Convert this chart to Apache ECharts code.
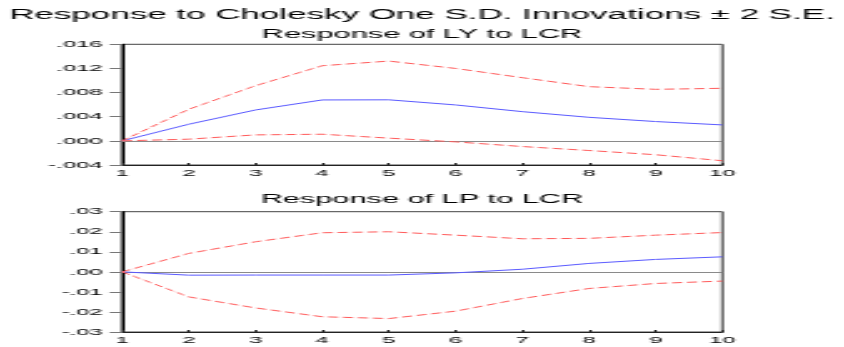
<!DOCTYPE html>
<html>
<head>
<meta charset="utf-8">
<script src="https://cdn.jsdelivr.net/npm/echarts@6/dist/echarts.min.js"></script>
<style>
html,body{margin:0;padding:0;background:#fff;overflow:hidden;width:844px;height:347px;}
#wrap{width:844px;height:347px;overflow:hidden;}
#chart{width:338px;height:347px;transform:scaleX(2.497);transform-origin:0 0;}
</style>
</head>
<body>
<div id="wrap"><div id="chart"></div></div>
<script>
// ---- data ----
const horizons = ['1','2','3','4','5','6','7','8','9','10'];
const mainTitle = 'Response to Cholesky One S.D. Innovations \u00b1 2 S.E.';
const panelTitles = ['Response of LY to LCR', 'Response of LP to LCR'];

const lyResp  = [0, 0.00276, 0.00512, 0.00678, 0.00680, 0.00595, 0.00484, 0.00390, 0.00320, 0.00264];
const lyUpper = [0, 0.00524, 0.00914, 0.01245, 0.01322, 0.01200, 0.01047, 0.00898, 0.00854, 0.00871];
const lyLower = [0, 0.00028, 0.00099, 0.00110, 0.00045, -0.00017, -0.00094, -0.00160, -0.00230, -0.00330];

const lpResp  = [0, -0.00165, -0.00160, -0.00160, -0.00160, -0.00050, 0.00130, 0.00420, 0.00620, 0.00750];
const lpUpper = [0, 0.00920, 0.01500, 0.01950, 0.02000, 0.01830, 0.01650, 0.01670, 0.01830, 0.01960];
const lpLower = [0, -0.01250, -0.01800, -0.02240, -0.02330, -0.01960, -0.01330, -0.00830, -0.00580, -0.00460];

const lyAxis = {min: -0.004, max: 0.016, interval: 0.004, digits: 3};
const lpAxis = {min: -0.03, max: 0.03, interval: 0.01, digits: 2};

// ---- chart ----
const FONT = "'Liberation Sans', Arial, sans-serif";
const BLUE = '#5a5aff';
const RED = '#ff5a5a';

function fmt(digits){
  return function(v){
    const s = Math.abs(v).toFixed(digits).replace(/^0/, '');
    return (v < -1e-12 ? '-' : '') + s;
  };
}

function yAxisCfg(idx, a){
  return {
    type: 'value', gridIndex: idx, min: a.min, max: a.max, interval: a.interval,
    axisLine: {show: true, onZero: false, lineStyle: {color: '#000', width: 1}},
    axisTick: {show: true, inside: false, length: 5, lineStyle: {color: '#777'}},
    splitLine: {show: false},
    axisLabel: {formatter: fmt(a.digits), fontFamily: FONT, fontSize: 9.6, color: '#000', margin: 7.7}
  };
}
function xAxisCfg(idx){
  return {
    type: 'category', gridIndex: idx, data: horizons, boundaryGap: false,
    axisLine: {show: true, onZero: false, lineStyle: {color: '#222', width: 1}},
    axisTick: {show: true, inside: true, length: 2, alignWithLabel: true, lineStyle: {color: '#222'}},
    splitLine: {show: false},
    axisLabel: {fontFamily: FONT, fontSize: 9.6, color: '#000', margin: 3, interval: 0, showMinLabel: true, showMaxLabel: true}
  };
}
function lineSeries(idx, data, color, dashed, withZero){
  const s = {
    type: 'line', xAxisIndex: idx, yAxisIndex: idx, data: data,
    symbol: 'none', smooth: false,
    lineStyle: {color: color, width: 1, type: dashed ? [4, 2] : 'solid'},
    z: 3
  };
  if (withZero) {
    s.markLine = {
      silent: true, symbol: ['none','none'], label: {show: false},
      lineStyle: {color: '#8a8a8a', width: 1, type: 'solid'},
      data: [{yAxis: 0}], z: 1
    };
  }
  return s;
}

const chart = echarts.init(document.getElementById('chart'), null, {renderer: 'canvas'});
chart.setOption({
  animation: false,
  backgroundColor: '#fff',
  title: [
    {text: mainTitle, left: 'center', top: 3, textStyle: {fontFamily: FONT, fontSize: 14, fontWeight: 'normal', color: '#000'}},
    {text: panelTitles[0], left: 'center', top: 23.5, textStyle: {fontFamily: FONT, fontSize: 12.3, fontWeight: 'normal', color: '#000'}},
    {text: panelTitles[1], left: 'center', top: 189, textStyle: {fontFamily: FONT, fontSize: 12.3, fontWeight: 'normal', color: '#000'}}
  ],
  grid: [
    {left: 48.9, right: 48.7, top: 44.3, height: 120.7, show: true, borderColor: '#444', borderWidth: 1, backgroundColor: 'transparent'},
    {left: 48.9, right: 48.7, top: 211.7, height: 120.3, show: true, borderColor: '#444', borderWidth: 1, backgroundColor: 'transparent'}
  ],
  xAxis: [xAxisCfg(0), xAxisCfg(1)],
  yAxis: [yAxisCfg(0, lyAxis), yAxisCfg(1, lpAxis)],
  series: [
    lineSeries(0, lyResp, BLUE, false, true),
    lineSeries(0, lyUpper, RED, true, false),
    lineSeries(0, lyLower, RED, true, false),
    lineSeries(1, lpResp, BLUE, false, true),
    lineSeries(1, lpUpper, RED, true, false),
    lineSeries(1, lpLower, RED, true, false)
  ]
});
</script>
</body>
</html>
